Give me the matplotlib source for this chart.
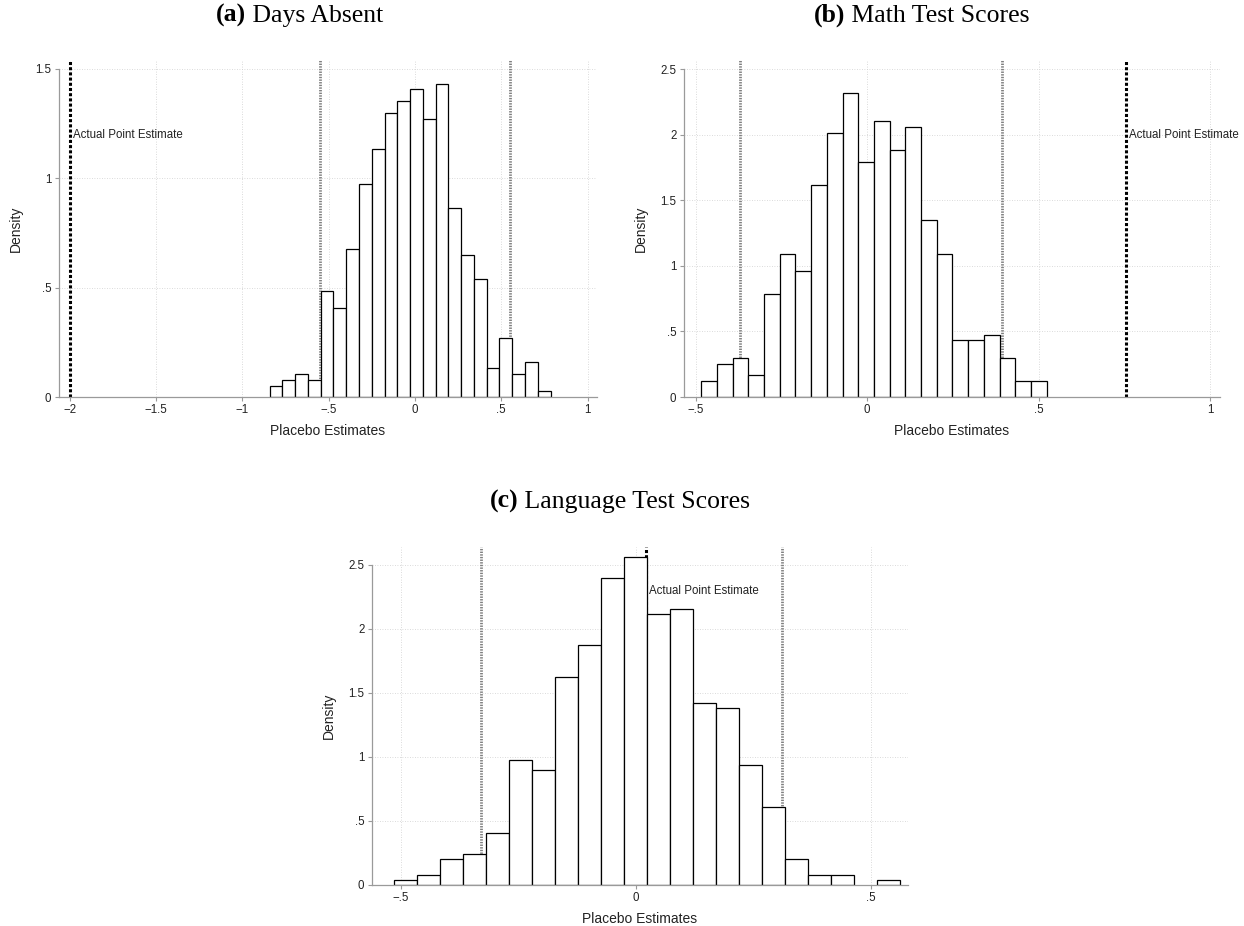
import numpy as np
import matplotlib
matplotlib.use("Agg")
from matplotlib import pyplot as plt

# placebo distributions, densities per bin (equal-width bins)
days_start, days_width = -0.842, 0.0740
days_density = [0.051, 0.079, 0.106, 0.079, 0.486, 0.405, 0.676, 0.973, 1.136, 1.297, 1.352,
                1.407, 1.273, 1.433, 0.865, 0.648, 0.539, 0.133, 0.269, 0.106, 0.159, 0.026]

math_start, math_width = -0.484, 0.0458
math_density = [0.122, 0.254, 0.300, 0.165, 0.783, 1.090, 0.958, 1.616, 2.013, 2.320, 1.794,
                2.102, 1.881, 2.056, 1.352, 1.090, 0.432, 0.432, 0.475, 0.300, 0.122, 0.122]

lang_start, lang_width = -0.516, 0.04895
lang_density = [0.036, 0.078, 0.200, 0.242, 0.404, 0.974, 0.896, 1.628, 1.872, 2.401, 2.565,
                2.115, 2.156, 1.424, 1.383, 0.935, 0.609, 0.200, 0.078, 0.078, 0.0, 0.036]

# actual estimates and 5th/95th percentile bounds of the placebo estimates
days_actual, days_bounds = -1.996, [-0.551, 0.551]
math_actual, math_bounds = 0.755, [-0.370, 0.392]
lang_actual, lang_bounds = 0.022, [-0.331, 0.311]

days_yticks = [0, 0.5, 1, 1.5]
days_xticks = [-2, -1.5, -1, -0.5, 0, 0.5, 1]
math_yticks = [0, 0.5, 1, 1.5, 2, 2.5]
math_xticks = [-0.5, 0, 0.5, 1]
lang_yticks = [0, 0.5, 1, 1.5, 2, 2.5]
lang_xticks = [-0.5, 0, 0.5]

sans = "Liberation Sans"
serif = "Liberation Serif"
plt.rcParams["font.family"] = sans


def stata_label(v):
    s = "%g" % v
    s = s.replace("0.", ".")
    return s.replace("-", "\u2212")


def placebo_hist(ax, start, width, density, actual, bounds, label_y,
                 xlim, ylim, xticks, yticks):
    density = np.array(density)
    edges = start + width * np.arange(len(density) + 1)
    keep = density > 0
    ax.bar(edges[:-1][keep], density[keep], width=width, align="edge",
           color="white", edgecolor="black", linewidth=0.9, zorder=2)

    for b in bounds:
        ax.axvline(b, color="#7f7f7f", lw=2.0, ls=(0, (0.5, 0.45)), zorder=1)
    ax.axvline(actual, color="black", lw=2.2, ls=(0, (1.0, 0.7)), zorder=1)
    ax.annotate("Actual Point Estimate", (actual, label_y), xytext=(2.2, 0),
                textcoords="offset points", ha="left", va="center",
                fontsize=8.3, color="#222222", zorder=3, annotation_clip=False)

    ax.set_xlim(*xlim)
    ax.set_ylim(*ylim)
    ax.set_xticks(xticks)
    ax.set_xticklabels([stata_label(v) for v in xticks])
    ax.set_yticks(yticks)
    ax.set_yticklabels([stata_label(v) for v in yticks])
    ax.grid(True, color="#cfcfcf", lw=0.6, ls=(0, (1, 2)), zorder=0)
    ax.set_axisbelow(True)

    for side in ["top", "right"]:
        ax.spines[side].set_visible(False)
    for side in ["left", "bottom"]:
        ax.spines[side].set_color("#9a9a9a")
        ax.spines[side].set_linewidth(0.9)
    ax.spines["left"].set_bounds(0, yticks[-1])

    ax.tick_params(axis="both", colors="#9a9a9a", labelcolor="#222222",
                   labelsize=8.3, length=3, width=0.8)
    ax.tick_params(axis="x", pad=1.8)
    ax.tick_params(axis="y", pad=2.5)

    ax.set_xlabel("Placebo Estimates", fontsize=10, color="#222222")
    ax.set_ylabel("Density", fontsize=10, color="#222222")
    ax.xaxis.set_label_coords(0.5, -0.100)
    ax.xaxis.label.set_va("center")
    ax.yaxis.set_label_coords(-0.081, 0.5)
    ax.yaxis.label.set_va("center")


fig = plt.figure(figsize=(12.44, 9.26), dpi=100)
ax_a = fig.add_axes([0.04743, 0.57127, 0.43248, 0.36393])
ax_b = fig.add_axes([0.54984, 0.57127, 0.43087, 0.36393])
ax_c = fig.add_axes([0.29904, 0.04428, 0.43087, 0.36501])

placebo_hist(ax_a, days_start, days_width, days_density, days_actual, days_bounds, 1.2,
             (-2.062, 1.055), (0, 1.541), days_xticks, days_yticks)
placebo_hist(ax_b, math_start, math_width, math_density, math_actual, math_bounds, 2.0,
             (-0.534, 1.029), (0, 2.569), math_xticks, math_yticks)
placebo_hist(ax_c, lang_start, lang_width, lang_density, lang_actual, lang_bounds, 2.3,
             (-0.562, 0.579), (0, 2.64), lang_xticks, lang_yticks)


def panel_title(xc, yb, tag, name):
    kw = dict(family=serif, fontsize=18.5, va="baseline", ha="left", color="black")
    bold = fig.text(xc, yb, tag, fontweight="bold", **kw)
    rest = fig.text(xc, yb, " " + name, **kw)
    r = fig.canvas.get_renderer()
    wb = bold.get_window_extent(r).width
    wr = rest.get_window_extent(r).width
    W = fig.bbox.width
    x0 = xc * W - (wb + wr) / 2
    bold.set_x(x0 / W)
    rest.set_x((x0 + wb) / W)


panel_title(0.2412, 1 - 22 / 926, "(a)", "Days Absent")
panel_title(0.7412, 1 - 22 / 926, "(b)", "Math Test Scores")
panel_title(0.4984, 1 - 508 / 926, "(c)", "Language Test Scores")

fig.savefig("out.png", dpi=100, facecolor="white")
